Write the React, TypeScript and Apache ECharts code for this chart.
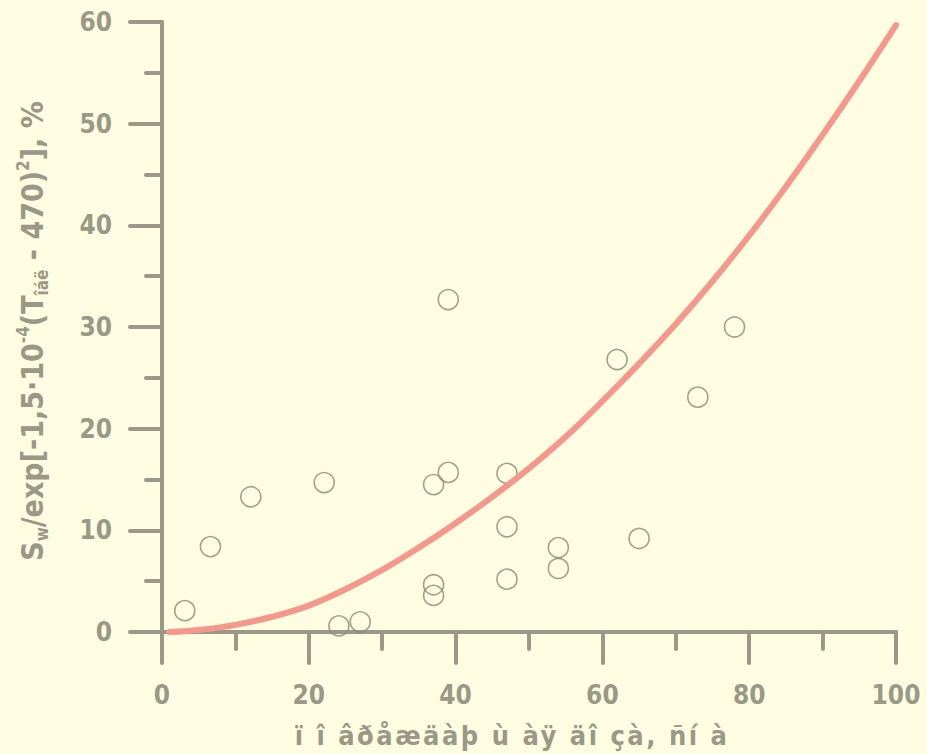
import React, { useEffect, useRef } from 'react';
import * as echarts from 'echarts';

const scatterX = [3.1, 6.6, 12.1, 22.1, 24.1, 27.0, 37.0, 39.0, 39.0, 37.0, 37.0, 47.0, 47.0, 47.0, 54.0, 54.0, 62.0, 65.0, 73.0, 78.0];
const scatterY = [2.1, 8.4, 13.3, 14.7, 0.6, 1.0, 14.5, 15.7, 32.7, 4.65, 3.6, 15.6, 10.35, 5.2, 8.3, 6.25, 26.8, 9.2, 23.1, 30.0];
const curveX = [1, 5, 10, 15, 20, 25, 30, 35, 40, 45, 50, 55, 60, 65, 70, 75, 80, 85, 90, 95, 100];
const curveY = [0, 0.2, 0.7, 1.5, 2.6, 4.2, 6.1, 8.3, 10.7, 13.3, 16.1, 19.2, 22.7, 26.4, 30.3, 34.5, 39.0, 43.8, 48.9, 54.2, 59.7];
const xTicks = [0, 20, 40, 60, 80, 100];
const yTicks = [0, 10, 20, 30, 40, 50, 60];
const xTitle = 'ï î âðåæäàþ ù àÿ äî çà, ñí à';
const yTitleParts = ['S', 'w', '/exp[-1,5·10', '-4', '(T', 'îáë', ' - 470)', '2', '], %'];

const BG = '#fefde1';
const AX = '#9a9886';
const FONT = "'DejaVu Sans Condensed', 'Liberation Sans Narrow', 'Liberation Sans', sans-serif";

export default function App() {
  const ref = useRef<HTMLDivElement>(null);
  useEffect(() => {
    const chart = echarts.init(ref.current!, null, { renderer: 'svg' });
    const p = yTitleParts;
    const yTitle = `{b|${p[0]}}{sub|${p[1]}}{b|${p[2]}}{sup|${p[3]}}{b|${p[4]}}{sub|${p[5]}}{b|${p[6]}}{sup|${p[7]}}{b|${p[8]}}`;
    chart.setOption({
      backgroundColor: BG,
      animation: false,
      grid: { left: 162, right: 31, top: 22, bottom: 122, containLabel: false },
      xAxis: {
        type: 'value', min: xTicks[0], max: xTicks[xTicks.length - 1], interval: 20,
        axisLine: { show: true, onZero: false, lineStyle: { color: AX, width: 4, cap: 'round' } },
        axisTick: { show: true, length: 31, lineStyle: { color: AX, width: 4, cap: 'round' } },
        minorTick: { show: true, splitNumber: 2, length: 17, lineStyle: { color: AX, width: 4, cap: 'round' } },
        splitLine: { show: false },
        minorSplitLine: { show: false },
        axisLabel: { margin: 50, color: AX, fontSize: 26, fontWeight: 'bold', fontFamily: FONT },
      },
      yAxis: {
        type: 'value', min: yTicks[0], max: yTicks[yTicks.length - 1], interval: 10,
        axisLine: { show: true, onZero: false, lineStyle: { color: AX, width: 4, cap: 'round' } },
        axisTick: { show: true, length: 32, lineStyle: { color: AX, width: 4, cap: 'round' } },
        minorTick: { show: true, splitNumber: 2, length: 16, lineStyle: { color: AX, width: 4, cap: 'round' } },
        splitLine: { show: false },
        minorSplitLine: { show: false },
        axisLabel: { margin: 50, color: AX, fontSize: 26, fontWeight: 'bold', fontFamily: FONT },
      },
      series: [
        {
          type: 'scatter',
          data: scatterX.map((x, i) => [x, scatterY[i]]),
          symbol: 'circle',
          symbolSize: 20,
          silent: true,
          itemStyle: { color: 'rgba(0,0,0,0)', borderColor: '#8c8a78', borderWidth: 1.6 },
          z: 2,
        },
        {
          type: 'line',
          data: curveX.map((x, i) => [x, curveY[i]]),
          showSymbol: false,
          smooth: 0.4,
          silent: true,
          lineStyle: { color: '#f5978a', width: 6, cap: 'round' },
          z: 3,
        },
      ],
      graphic: [
        {
          type: 'text', x: 512, y: 735, silent: true,
          style: { text: xTitle, align: 'center', verticalAlign: 'middle', fill: AX, fontSize: 27, fontWeight: 'bold', fontFamily: FONT },
        },
        {
          type: 'text', x: 32, y: 331, rotation: Math.PI / 2, silent: true,
          style: {
            text: yTitle, align: 'center', verticalAlign: 'middle',
            rich: {
              b: { fill: AX, fontSize: 30, fontWeight: 'bold', fontFamily: FONT, lineHeight: 36, verticalAlign: 'middle' },
              sub: { fill: AX, fontSize: 17, fontWeight: 'bold', fontFamily: FONT, lineHeight: 36, verticalAlign: 'bottom' },
              sup: { fill: AX, fontSize: 17, fontWeight: 'bold', fontFamily: FONT, lineHeight: 36, verticalAlign: 'top' },
            },
          },
        },
      ],
    });
    return () => chart.dispose();
  }, []);
  return (
    <>
      <style>{`body{margin:0} text[style*="27px"]{letter-spacing:2.5px}`}</style>
      <div ref={ref} style={{ position: 'absolute', left: 0, top: 0, width: 927, height: 754, background: BG }} />
    </>
  );
}
